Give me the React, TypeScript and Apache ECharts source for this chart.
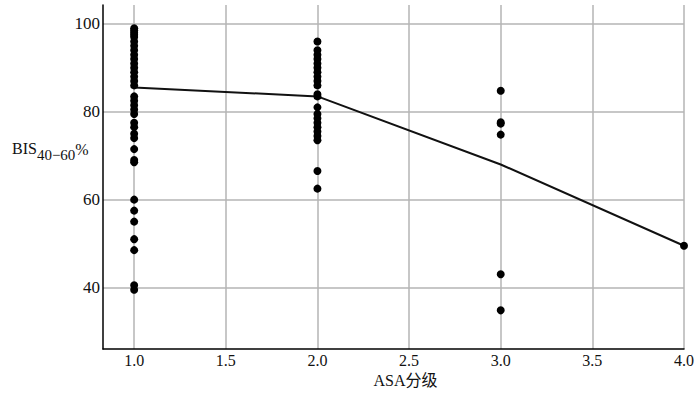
import React, { useEffect, useRef } from "react";
import * as echarts from "echarts";

// ASA grade 1 values
const asa1Values = [99, 98.5, 98, 97.5, 97, 96, 95, 94, 93, 92, 91, 90, 89, 88, 87, 86,
  83.5, 82.5, 81.5, 80.5, 79.5, 77.5, 76.5, 75, 74, 71.5, 69, 68.5,
  60, 57.5, 55, 51, 48.5, 40.5, 39.5];
const asa2Values = [96, 94, 93, 92, 91, 90, 89, 88, 87, 86, 84, 83.5, 81,
  79.5, 78.5, 77.5, 76.5, 75.5, 74.5, 73.5, 66.5, 62.5];
const asa3Values = [84.8, 77.6, 77.3, 74.8, 43, 34.8];
const asa4Values = [49.5];
const grades = [1, 2, 3, 4];
const meanLine = [85.5, 83.5, 68, 49.5];
const xTicks = [1, 1.5, 2, 2.5, 3, 3.5, 4];
const yTicks = [40, 60, 80, 100];

const FONT = "'Liberation Serif', 'Times New Roman', 'Noto Sans CJK SC', serif";

export default function App() {
  const ref = useRef<HTMLDivElement>(null);
  useEffect(() => {
    if (!ref.current) return;
    const chart = echarts.init(ref.current, null, { renderer: "svg" });
    const groups = [asa1Values, asa2Values, asa3Values, asa4Values];
    const points: number[][] = [];
    groups.forEach((vals, i) => vals.forEach((v) => points.push([grades[i], v])));
    chart.setOption({
      animation: false,
      backgroundColor: "#ffffff",
      grid: { left: 103, right: 16, top: 5, bottom: 48, containLabel: false },
      xAxis: {
        type: "value",
        min: 0.83,
        max: 4,
        name: "ASA分级",
        nameLocation: "middle",
        nameGap: 20,
        nameTextStyle: { fontFamily: FONT, fontSize: 16, color: "#111", padding: [0, 0, 0, 24] },
        axisLine: { show: true, onZero: false, lineStyle: { color: "#000", width: 1.5 } },
        axisTick: { show: false, customValues: xTicks },
        axisLabel: { customValues: xTicks, fontFamily: FONT, fontSize: 16, color: "#111", margin: 3,
          formatter: (v: number) => v.toFixed(1) },
        splitLine: { show: true, lineStyle: { color: "#b4b4b4", width: 1.5 } },
      },
      yAxis: {
        type: "value",
        min: 26,
        max: 104.3,
        axisLine: { show: true, onZero: false, lineStyle: { color: "#000", width: 1.5 } },
        axisTick: { show: false, customValues: yTicks },
        axisLabel: { customValues: yTicks, fontFamily: FONT, fontSize: 17, color: "#111", margin: 3 },
        splitLine: { show: true, lineStyle: { color: "#b4b4b4", width: 1.5 } },
      },
      graphic: [
        {
          type: "text",
          left: 12,
          top: 140,
          style: {
            text: "{a|BIS}{b|40−60}{c|%}",
            rich: {
              a: { fontFamily: FONT, fontSize: 16, fill: "#111" },
              b: { fontFamily: FONT, fontSize: 15, fill: "#111", padding: [13, 0, 0, 0] },
              c: { fontFamily: FONT, fontSize: 16, fill: "#111", padding: [2, 0, 0, 0] },
            },
          },
        },
      ],
      series: [
        {
          type: "line",
          data: grades.map((g, i) => [g, meanLine[i]]),
          showSymbol: false,
          symbol: "none",
          lineStyle: { color: "#111", width: 2 },
          z: 2,
        },
        {
          type: "scatter",
          data: points,
          symbol: "circle",
          symbolSize: 8,
          itemStyle: { color: "#000", opacity: 1 },
          z: 3,
        },
      ],
    });
    return () => chart.dispose();
  }, []);
  return <div ref={ref} style={{ width: 700, height: 397, position: "absolute", left: 0, top: 0 }} />;
}
